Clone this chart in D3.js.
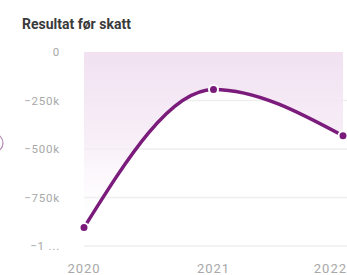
<!DOCTYPE html>
<html lang="en">
<head>
<meta charset="UTF-8">
<title>Resultat før skatt</title>
<script src="https://cdn.jsdelivr.net/npm/d3@7"></script>
<style>
  body { margin: 0; background: #fff; }
  svg { display: block; font-family: Roboto, "Noto Sans", sans-serif; }
</style>
</head>
<body>
<div id="chart"></div>
<script>
// data
let years = [2020, 2021, 2022]
let values = [-905000, -193000, -432000]
let yTicks = [0, -250000, -500000, -750000, -1000000]
let yTickLabels = ["0", "\u2212250k", "\u2212500k", "\u2212750k", "\u22121 ..."]
let xTickLabels = ["2020", "2021", "2022"]

let width = 347, height = 275
let padLeft = 84, padRight = 343, padTop = 52, padBottom = 246
let purple = "#7b1b7b"

let svg = d3.select("#chart").append("svg")
    .attr("width", width)
    .attr("height", height)

let x = d3.scaleLinear().domain([2020, 2022]).range([padLeft, padRight])
let y = d3.scaleLinear().domain([-1000000, 0]).range([padBottom, padTop])

let defs = svg.append("defs")
let grad = defs.append("linearGradient")
    .attr("id", "fillGrad")
    .attr("gradientUnits", "userSpaceOnUse")
    .attr("x1", 0).attr("y1", padTop).attr("x2", 0).attr("y2", padBottom)
grad.append("stop").attr("offset", "0%").attr("stop-color", "#f1e1f1").attr("stop-opacity", 1)
grad.append("stop").attr("offset", "45%").attr("stop-color", "#f5eaf5").attr("stop-opacity", 0.8)
grad.append("stop").attr("offset", "85%").attr("stop-color", "#faf4fa").attr("stop-opacity", 0)

// title
svg.append("text")
    .attr("x", 22).attr("y", 29)
    .attr("font-size", 14)
    .attr("font-weight", "bold")
    .attr("fill", "#3a3a3a")
    .text("Resultat før skatt")

// grid lines
svg.append("g")
    .selectAll("line")
    .data(yTicks.slice(1))
    .enter()
    .append("line")
    .attr("x1", padLeft).attr("x2", width)
    .attr("y1", d => y(d)).attr("y2", d => y(d))
    .attr("stroke", "#eeeeee")
    .attr("stroke-width", 1.5)

let pts = years.map((d, i) => ({ year: d, value: values[i] }))

// area from the curve up to zero
let area = d3.area()
    .curve(d3.curveMonotoneX)
    .x(d => x(d.year))
    .y0(y(0))
    .y1(d => y(d.value))
svg.append("path")
    .datum(pts)
    .attr("d", area)
    .attr("fill", "url(#fillGrad)")

let line = d3.line()
    .curve(d3.curveMonotoneX)
    .x(d => x(d.year))
    .y(d => y(d.value))
svg.append("path")
    .datum(pts)
    .attr("d", line)
    .attr("fill", "none")
    .attr("stroke", purple)
    .attr("stroke-width", 3.5)
    .attr("stroke-linecap", "round")

svg.append("g")
    .selectAll("circle")
    .data(pts)
    .enter()
    .append("circle")
    .attr("cx", d => x(d.year))
    .attr("cy", d => y(d.value))
    .attr("r", 4.5)
    .attr("fill", purple)
    .attr("stroke", "#fff")
    .attr("stroke-width", 2)

// y tick labels
svg.append("g")
    .selectAll("text")
    .data(yTicks)
    .enter()
    .append("text")
    .attr("x", 60)
    .attr("y", d => y(d) + 4)
    .attr("text-anchor", "end")
    .attr("font-size", 11.5)
    .attr("letter-spacing", 0.8)
    .attr("fill", "#a8a8a8")
    .text((d, i) => yTickLabels[i])

// x tick labels
svg.append("g")
    .selectAll("text")
    .data(years)
    .enter()
    .append("text")
    .attr("x", (d, i) => i == years.length - 1 ? width : x(d))
    .attr("y", 273)
    .attr("text-anchor", (d, i) => i == years.length - 1 ? "end" : "middle")
    .attr("font-size", 13)
    .attr("letter-spacing", 1)
    .attr("fill", "#a8a8a8")
    .text((d, i) => xTickLabels[i])

// cut-off nav button at the left edge
svg.append("circle")
    .attr("cx", -6).attr("cy", 143)
    .attr("r", 9)
    .attr("fill", "none")
    .attr("stroke", "#b48ab4")
    .attr("stroke-width", 1.2)
</script>
</body>
</html>
